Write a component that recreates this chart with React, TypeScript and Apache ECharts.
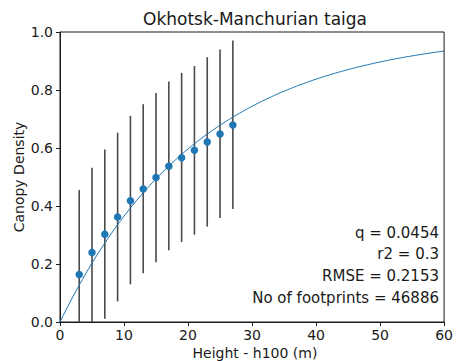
import React, { useEffect, useRef } from "react";
import * as echarts from "echarts";

// Canopy density binned by canopy height (h100), with ±1 sd bars
const heights = [3, 5, 7, 9, 11, 13, 15, 17, 19, 21, 23, 25, 27];
const meanDensity = [0.164, 0.24, 0.303, 0.362, 0.418, 0.459, 0.498, 0.537, 0.566, 0.592, 0.621, 0.648, 0.679];
const upperDensity = [0.455, 0.532, 0.595, 0.653, 0.711, 0.751, 0.79, 0.829, 0.859, 0.883, 0.913, 0.94, 0.971];
const lowerDensity = [-0.127, -0.052, 0.011, 0.071, 0.13, 0.168, 0.206, 0.247, 0.276, 0.301, 0.329, 0.359, 0.39];

// Fitted model: density = 1 - exp(-q * h)
const fitQ = 0.0454;
const fitStats = ["q = 0.0454", "r2 = 0.3", "RMSE = 0.2153", "No of footprints = 46886"];

const xTicks = [0, 10, 20, 30, 40, 50, 60];
const yTicks = [0, 0.2, 0.4, 0.6, 0.8, 1.0];

const FONT = "DejaVu Sans";
const INK = "#1a1a1a";

export default function App() {
  const ref = useRef<HTMLDivElement>(null);

  useEffect(() => {
    document.body.style.margin = "0";
    if (!ref.current) return;
    const chart = echarts.init(ref.current, undefined, { renderer: "svg" });

    const fitCurve: number[][] = [];
    for (let h = xTicks[0]; h <= xTicks[xTicks.length - 1]; h += 0.5) {
      fitCurve.push([h, 1 - Math.exp(-fitQ * h)]);
    }

    const barData = heights.map((h, i) => [h, lowerDensity[i], upperDensity[i]]);
    const pointData = heights.map((h, i) => [h, meanDensity[i]]);

    const yMin = yTicks[0];
    const yMax = yTicks[yTicks.length - 1];

    chart.setOption({
      animation: false,
      backgroundColor: "#ffffff",
      grid: {
        left: 60,
        right: 6,
        top: 32,
        bottom: 39,
        show: true,
        borderColor: INK,
        borderWidth: 1,
        backgroundColor: "transparent",
      },
      xAxis: {
        type: "value",
        min: xTicks[0],
        max: xTicks[xTicks.length - 1],
        interval: 10,
        axisLine: { show: true, onZero: false, lineStyle: { color: INK, width: 1 } },
        axisTick: { show: true, inside: false, length: 4, lineStyle: { color: INK } },
        splitLine: { show: false },
        axisLabel: { color: INK, fontFamily: FONT, fontSize: 14, margin: 6 },
      },
      yAxis: {
        type: "value",
        min: yMin,
        max: yMax,
        interval: 0.2,
        axisLine: { show: true, onZero: false, lineStyle: { color: INK, width: 1 } },
        axisTick: { show: true, inside: false, length: 4, lineStyle: { color: INK } },
        splitLine: { show: false },
        axisLabel: {
          color: INK,
          fontFamily: FONT,
          fontSize: 14,
          margin: 7,
          formatter: (v: number) => v.toFixed(1),
        },
      },
      graphic: [
        {
          type: "text",
          x: 255,
          y: 19,
          style: {
            text: "Okhotsk-Manchurian taiga",
            fontFamily: FONT,
            fontSize: 17,
            fill: INK,
            textAlign: "center",
            textVerticalAlign: "middle",
          },
        },
        {
          type: "text",
          x: 255,
          y: 353,
          style: {
            text: "Height - h100 (m)",
            fontFamily: FONT,
            fontSize: 14,
            fill: INK,
            textAlign: "center",
            textVerticalAlign: "middle",
          },
        },
        {
          type: "text",
          x: 19,
          y: 177,
          rotation: Math.PI / 2,
          style: {
            text: "Canopy Density",
            fontFamily: FONT,
            fontSize: 14,
            fill: INK,
            textAlign: "center",
            textVerticalAlign: "middle",
          },
        },
        ...fitStats.map((line, i) => ({
          type: "text",
          right: 17,
          top: 225 + i * 21.8,
          style: {
            text: line,
            fontFamily: FONT,
            fontSize: 15,
            fill: INK,
            textAlign: "right",
          },
        })),
      ],
      series: [
        {
          type: "custom",
          name: "sd",
          clip: true,
          data: barData,
          z: 1,
          renderItem: (_params: any, api: any) => {
            const x = api.value(0);
            const lo = Math.max(api.value(1), yMin);
            const hi = Math.min(api.value(2), yMax);
            const p1 = api.coord([x, lo]);
            const p2 = api.coord([x, hi]);
            return {
              type: "line",
              shape: { x1: p1[0], y1: p1[1], x2: p2[0], y2: p2[1] },
              style: { stroke: "#4a4a4a", lineWidth: 1.6 },
            };
          },
        },
        {
          type: "scatter",
          name: "mean",
          data: pointData,
          symbol: "circle",
          symbolSize: 7.5,
          itemStyle: { color: "#1f77b4", opacity: 1 },
          z: 2,
        },
        {
          type: "line",
          name: "fit",
          data: fitCurve,
          showSymbol: false,
          symbol: "none",
          lineStyle: { color: "#1f77b4", width: 1 },
          z: 3,
        },
      ],
    });

    return () => chart.dispose();
  }, []);

  return <div ref={ref} style={{ width: 456, height: 361 }} />;
}
